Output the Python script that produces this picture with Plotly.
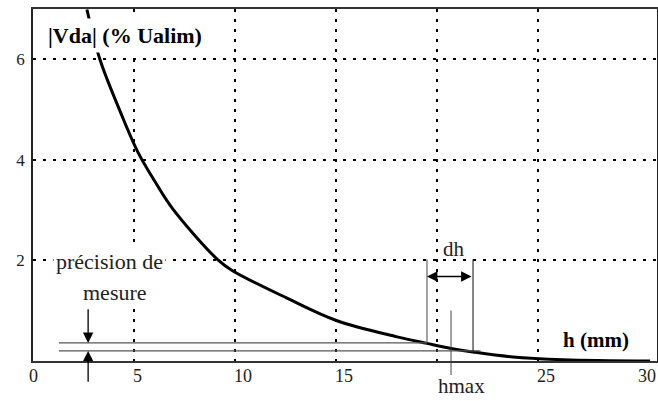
import plotly.graph_objects as go

# ---- data ----
h_mm = [2.67, 3.32, 4.31, 5.20, 6.04, 6.93, 9.16, 9.86, 12.58, 15.06,
        18.03, 19.51, 20.70, 21.79, 23.77, 26.25, 30.56]
vda_pct = [6.99, 5.99, 4.97, 4.15, 3.57, 3.02, 2.01, 1.80, 1.25, 0.80,
           0.48, 0.35, 0.25, 0.18, 0.08, 0.025, 0.0]

x_ticks = [0, 5, 10, 15, 25, 30]          # "20" is replaced by the hmax label
x_tick_labels = ["0", "5", "10", "15", "25", "30"]
x_grid = [5, 10, 15, 20, 25]
y_ticks = [2, 4, 6]
y_tick_labels = ["2", "4", "6"]

prec_hi = 0.36      # upper precision level
prec_lo = 0.20      # lower precision level
prec_start = 1.29   # start of precision lines (h)
h_dh_left = 19.51   # curve crosses upper level
h_dh_right = 21.79  # curve crosses lower level
h_max = 20.70
prec_arrow_h = 2.73

SERIF = "Liberation Serif"

fig = go.Figure()
fig.add_trace(go.Scatter(x=h_mm, y=vda_pct, mode="lines",
                         line=dict(color="black", width=3, shape="spline", smoothing=1.0),
                         showlegend=False, hoverinfo="skip"))

grid_dash = "3px,7px"
fig.update_xaxes(range=[0, 30.9], tickvals=x_grid, showticklabels=False, ticks="",
                 showgrid=True, gridcolor="black", gridwidth=2, griddash=grid_dash,
                 zeroline=False, showline=True, linecolor="#333", linewidth=1.5, mirror=True)
fig.update_yaxes(range=[0, 7], tickvals=y_ticks, ticktext=y_tick_labels, ticks="",
                 showgrid=True, gridcolor="black", gridwidth=2, griddash=grid_dash,
                 zeroline=False, showline=True, linecolor="#222", linewidth=1.5, mirror=True,
                 ticklabelstandoff=3, automargin=False,
                 tickfont=dict(family=SERIF, size=17, color="#222"))

anns = []
# x tick labels
for v, t in zip(x_ticks, x_tick_labels):
    anns.append(dict(x=v, y=0, xref="x", yref="paper", text=t, showarrow=False,
                     xanchor="center" if v == 0 else "left", yanchor="top",
                     xshift=0 if v == 0 else -3, yshift=-3,
                     font=dict(family=SERIF, size=18, color="#222")))

# axis titles
anns.append(dict(x=4.56, y=6.48, xref="x", yref="y", text="<b>|Vda| (% Ualim)</b>",
                 showarrow=False, bgcolor="white", borderpad=4,
                 font=dict(family=SERIF, size=22, color="black")))
anns.append(dict(x=27.9, y=0.42, xref="x", yref="y", text="<b>h (mm)</b>",
                 showarrow=False, font=dict(family=SERIF, size=21, color="black")))

# precision text
anns.append(dict(x=3.78, y=1.97, xref="x", yref="y", text="précision de",
                 showarrow=False, bgcolor="white", borderpad=2,
                 font=dict(family=SERIF, size=22, color="#222")))
anns.append(dict(x=4.06, y=1.36, xref="x", yref="y", text="mesure",
                 showarrow=False, bgcolor="white", borderpad=2,
                 font=dict(family=SERIF, size=22, color="#222")))

# precision arrows
anns.append(dict(x=prec_arrow_h, y=prec_hi, ax=prec_arrow_h, ay=1.06, xref="x", yref="y",
                 axref="x", ayref="y", text="", showarrow=True, arrowhead=2,
                 arrowsize=1.6, arrowwidth=1.3, arrowcolor="black", standoff=0))
anns.append(dict(x=prec_arrow_h, y=prec_lo, ax=prec_arrow_h, ay=-0.44, xref="x", yref="y",
                 axref="x", ayref="y", text="", showarrow=True, arrowhead=2,
                 arrowsize=1.6, arrowwidth=1.3, arrowcolor="black", standoff=0))

# dh
anns.append(dict(x=h_dh_left, y=1.68, ax=h_dh_right, ay=1.68, xref="x", yref="y",
                 axref="x", ayref="y", text="", showarrow=True, arrowhead=2,
                 arrowside="end+start", arrowsize=1.6, arrowwidth=1.3,
                 arrowcolor="black", standoff=0, startstandoff=0))
anns.append(dict(x=20.87, y=2.23, xref="x", yref="y", text="dh", showarrow=False,
                 font=dict(family=SERIF, size=21, color="#222")))

# hmax marker line (extends below the axis) and label
anns.append(dict(x=h_max, y=0, xref="x", yref="paper", yshift=-14,
                 ax=0, ay=-66, axref="pixel", ayref="pixel", text="", showarrow=True,
                 arrowhead=0, arrowwidth=1, arrowcolor="#444", standoff=0))
anns.append(dict(x=21.2, y=0, xref="x", yref="paper", yanchor="top", yshift=-11,
                 text="hmax", showarrow=False,
                 font=dict(family=SERIF, size=21, color="#222")))

shapes = [
    dict(type="line", xref="x", yref="y", x0=prec_start, x1=h_dh_left, y0=prec_hi, y1=prec_hi,
         line=dict(color="#555", width=1.3)),
    dict(type="line", xref="x", yref="y", x0=prec_start, x1=22.16, y0=prec_lo, y1=prec_lo,
         line=dict(color="#555", width=1.3)),
    dict(type="line", xref="x", yref="y", x0=h_dh_left, x1=h_dh_left, y0=prec_hi, y1=2.02,
         line=dict(color="#555", width=1.1)),
    dict(type="line", xref="x", yref="y", x0=h_dh_right, x1=h_dh_right, y0=prec_lo, y1=2.02,
         line=dict(color="#222", width=1.1)),
]

fig.update_layout(width=658, height=401, margin=dict(l=33, r=1, t=9, b=40),
                  plot_bgcolor="white", paper_bgcolor="white",
                  annotations=anns, shapes=shapes, showlegend=False)

fig.write_html("out.html", config={"displayModeBar": False},
               post_script="document.body.style.margin='0';document.body.style.overflow='hidden';")
